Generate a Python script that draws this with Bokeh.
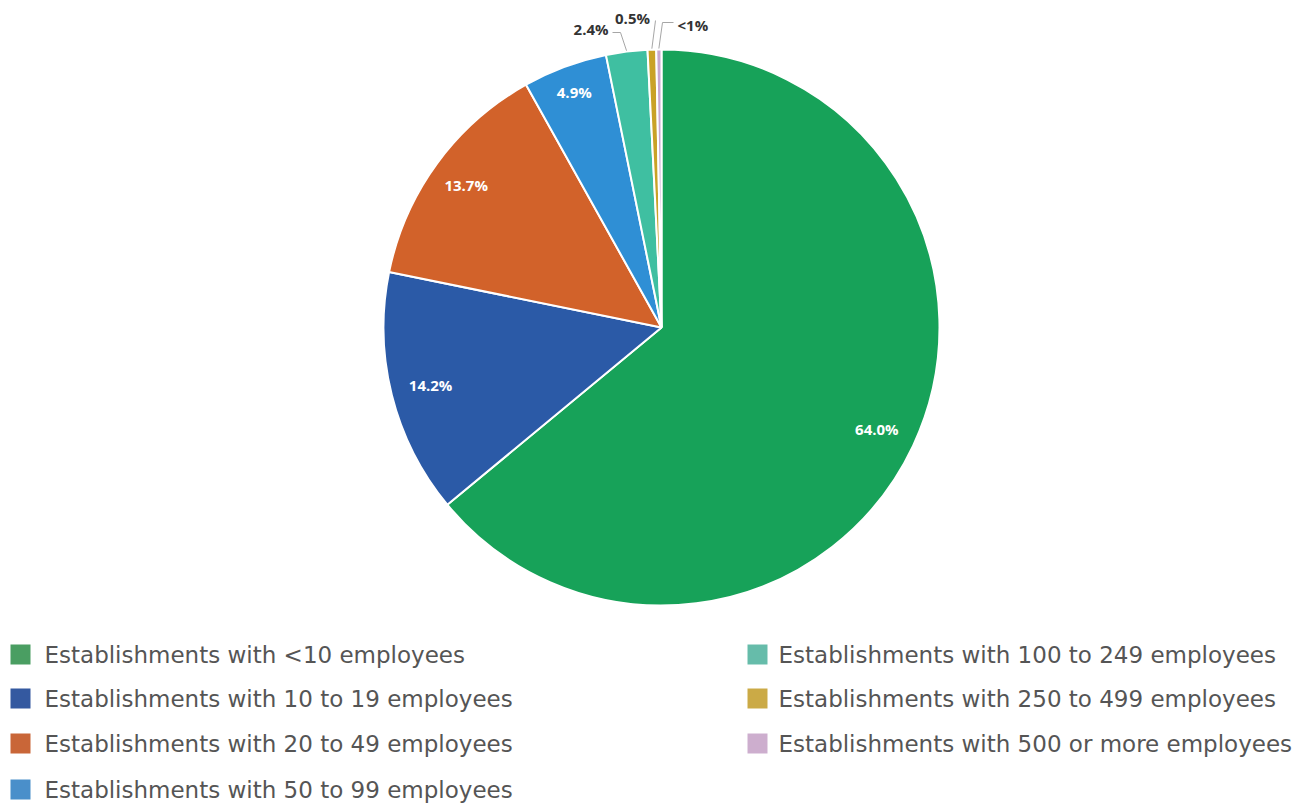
import math
from bokeh.plotting import figure
from bokeh.models import Range1d, ColumnDataSource
from bokeh.core.properties import value
from bokeh.embed import file_html
from bokeh.resources import INLINE

categories = [
    "Establishments with <10 employees",
    "Establishments with 10 to 19 employees",
    "Establishments with 20 to 49 employees",
    "Establishments with 50 to 99 employees",
    "Establishments with 100 to 249 employees",
    "Establishments with 250 to 499 employees",
    "Establishments with 500 or more employees",
]
shares = [64.0, 14.2, 13.7, 4.9, 2.4, 0.5, 0.3]
labels = ["64.0%", "14.2%", "13.7%", "4.9%", "2.4%", "0.5%", "<1%"]
slice_colors = ["#17a259", "#2b5aa7", "#d2622a", "#2f8fd5", "#3fbfa1", "#c9a227", "#c9a8d0"]
legend_colors = ["#4a9e62", "#3459a0", "#c96638", "#4a8fca", "#66bcaa", "#cbaa46", "#cdaece"]

W, H = 1309, 806
p = figure(width=W, height=H, output_backend="svg", toolbar_location=None,
           x_range=Range1d(0, W), y_range=Range1d(0, H), min_border=0)
p.axis.visible = False
p.grid.visible = False
p.outline_line_color = None
p.background_fill_color = "white"

cx, cy, R = 661, 479, 278

# slice angles, starting at 12 o'clock, clockwise
total = sum(shares)
starts, ends, mids = [], [], []
a = 90.0
for s in shares:
    b = a - 360.0 * s / total
    starts.append(math.radians(b))
    ends.append(math.radians(a))
    mids.append(math.radians((a + b) / 2))
    a = b

src = ColumnDataSource(dict(start=starts, end=ends, color=slice_colors))
p.wedge(x=cx, y=cy, radius=R, radius_units="screen", start_angle="start", end_angle="end",
        fill_color="color", line_color="white", line_width=2, source=src)

# inner labels
inner_r = [238, 238, 242, 251]
ix = [cx + inner_r[i] * math.cos(mids[i]) for i in range(4)]
iy = [cy + inner_r[i] * math.sin(mids[i]) for i in range(4)]
p.text(x=ix, y=iy, text=labels[:4], text_color="white", text_font=value("Open Sans"),
       text_font_size="15px", text_font_style="bold", text_align="center", text_baseline="middle")

# outer labels with leader lines
xs, ys = [], []
elbows = [(620, 774), (655, 786), (662, 784)]
ends_h = [(612, 774), (655, 786), (673, 784)]
for k, i in enumerate(range(4, 7)):
    ex = cx + (R + 1) * math.cos(mids[i])
    ey = cy + (R + 1) * math.sin(mids[i])
    xs.append([ex, elbows[k][0], ends_h[k][0]])
    ys.append([ey, elbows[k][1], ends_h[k][1]])
p.multi_line(xs=xs, ys=ys, line_color="#a6a6a6", line_width=1)
p.text(x=[608, 632, 677], y=[778, 789, 782], text=labels[4:],
       text_align=["right", "center", "left"], text_baseline="middle",
       text_color="#333333", text_font=value("Open Sans"), text_font_size="15px",
       text_font_style="bold")

# legend
lx_sw = [20, 20, 20, 20, 757, 757, 757]
lx_tx = [44, 44, 44, 44, 778, 778, 778]
rows = [0, 1, 2, 3, 0, 1, 2]
ly_rows = [152, 108, 63, 17]
ly = [ly_rows[r] for r in rows]
p.rect(x=lx_sw, y=ly, width=20, height=20, width_units="screen", height_units="screen",
       fill_color=legend_colors, line_color=None)
p.text(x=lx_tx, y=ly, text=categories, text_color="#555555", text_font=value("DejaVu Sans"),
       text_font_size="23px", text_baseline="middle", text_align="left")

open("out.html", "w").write(file_html(p, INLINE))
